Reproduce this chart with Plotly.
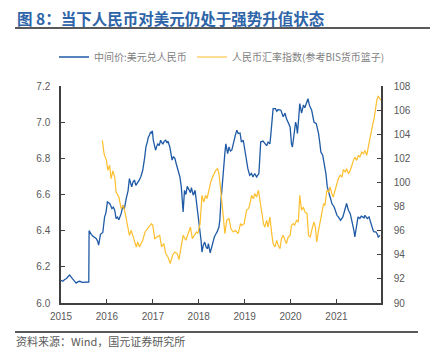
import plotly.graph_objects as go

# ---- data ----
cny_x = [2015.00, 2015.04, 2015.08, 2015.12, 2015.15, 2015.19, 2015.23, 2015.26, 2015.30, 2015.33,
         2015.37, 2015.41, 2015.46, 2015.51, 2015.56, 2015.605, 2015.612, 2015.64, 2015.66, 2015.69,
         2015.72, 2015.77, 2015.80, 2015.82, 2015.84, 2015.86, 2015.91, 2015.95, 2015.98, 2016.01,
         2016.06, 2016.11, 2016.14, 2016.17, 2016.20, 2016.23, 2016.26, 2016.31, 2016.35, 2016.38,
         2016.42, 2016.46, 2016.49, 2016.54, 2016.57, 2016.60, 2016.63, 2016.66, 2016.71, 2016.74,
         2016.78, 2016.82, 2016.85, 2016.88, 2016.90, 2016.93, 2016.95, 2016.97, 2016.99, 2017.01,
         2017.03, 2017.06, 2017.09, 2017.11, 2017.14, 2017.17, 2017.20, 2017.22, 2017.25, 2017.28,
         2017.31, 2017.33, 2017.37, 2017.40, 2017.42, 2017.45, 2017.48, 2017.51, 2017.53, 2017.56,
         2017.59, 2017.62, 2017.66, 2017.69, 2017.72, 2017.75, 2017.79, 2017.82, 2017.84, 2017.88,
         2017.92, 2017.96, 2018.00, 2018.03, 2018.05, 2018.07, 2018.10, 2018.13, 2018.16, 2018.19,
         2018.21, 2018.25, 2018.27, 2018.29, 2018.34, 2018.37, 2018.40, 2018.44, 2018.46, 2018.48,
         2018.50, 2018.52, 2018.54, 2018.57, 2018.59, 2018.63, 2018.66, 2018.69, 2018.72, 2018.75,
         2018.77, 2018.80, 2018.83, 2018.86, 2018.90, 2018.93, 2018.97, 2019.00, 2019.04, 2019.07,
         2019.11, 2019.15, 2019.18, 2019.22, 2019.26, 2019.29, 2019.31, 2019.33, 2019.35, 2019.40,
         2019.45, 2019.48, 2019.51, 2019.55, 2019.57, 2019.59, 2019.62, 2019.67, 2019.70, 2019.73,
         2019.79, 2019.84, 2019.88, 2019.91, 2019.94, 2019.99, 2020.02, 2020.04, 2020.06, 2020.08,
         2020.11, 2020.13, 2020.15, 2020.18, 2020.20, 2020.24, 2020.28, 2020.31, 2020.34, 2020.38,
         2020.41, 2020.46, 2020.48, 2020.51, 2020.56, 2020.61, 2020.64, 2020.66, 2020.70, 2020.73,
         2020.77, 2020.80, 2020.83, 2020.85, 2020.88, 2020.90, 2020.95, 2020.98, 2021.01, 2021.04,
         2021.07, 2021.09, 2021.14, 2021.17, 2021.19, 2021.22, 2021.26, 2021.30, 2021.33, 2021.35,
         2021.38, 2021.40, 2021.43, 2021.47, 2021.51, 2021.54, 2021.57, 2021.60, 2021.62, 2021.67,
         2021.71, 2021.74, 2021.77, 2021.80, 2021.82, 2021.86, 2021.89, 2021.91, 2021.95]
cny_y = [6.126, 6.120, 6.130, 6.135, 6.145, 6.155, 6.140, 6.130, 6.120, 6.110,
         6.118, 6.120, 6.114, 6.116, 6.115, 6.116, 6.400, 6.385, 6.380, 6.370,
         6.365, 6.356, 6.340, 6.320, 6.350, 6.380, 6.390, 6.476, 6.500, 6.559,
         6.550, 6.522, 6.530, 6.513, 6.467, 6.475, 6.460, 6.494, 6.540, 6.520,
         6.577, 6.620, 6.688, 6.642, 6.670, 6.680, 6.650, 6.660, 6.682, 6.700,
         6.734, 6.800, 6.863, 6.890, 6.915, 6.930, 6.946, 6.940, 6.952, 6.900,
         6.872, 6.845, 6.870, 6.880, 6.870, 6.900, 6.885, 6.880, 6.895, 6.900,
         6.885, 6.895, 6.863, 6.820, 6.790, 6.810, 6.800, 6.770, 6.749, 6.730,
         6.697, 6.642, 6.504, 6.623, 6.600, 6.645, 6.623, 6.610, 6.638, 6.596,
         6.623, 6.540, 6.457, 6.400, 6.347, 6.282, 6.320, 6.337, 6.310, 6.300,
         6.328, 6.277, 6.300, 6.320, 6.365, 6.380, 6.393, 6.420, 6.460, 6.550,
         6.623, 6.700, 6.770, 6.830, 6.880, 6.826, 6.863, 6.840, 6.845, 6.880,
         6.910, 6.930, 6.955, 6.937, 6.940, 6.890, 6.900, 6.845, 6.790, 6.743,
         6.706, 6.716, 6.697, 6.716, 6.697, 6.710, 6.716, 6.800, 6.890, 6.895,
         6.880, 6.870, 6.890, 6.880, 6.930, 6.992, 7.075, 7.075, 7.060, 7.070,
         7.066, 7.030, 7.050, 7.020, 7.000, 6.974, 6.880, 6.863, 6.900, 6.946,
         7.000, 6.980, 6.937, 7.030, 7.103, 7.050, 7.094, 7.080, 7.103, 7.130,
         7.094, 7.066, 7.040, 7.000, 6.992, 6.937, 6.880, 6.835, 6.817, 6.770,
         6.716, 6.642, 6.620, 6.596, 6.570, 6.550, 6.531, 6.500, 6.485, 6.476,
         6.460, 6.457, 6.476, 6.500, 6.522, 6.550, 6.513, 6.494, 6.460, 6.439,
         6.400, 6.365, 6.420, 6.476, 6.467, 6.480, 6.476, 6.470, 6.485, 6.467,
         6.476, 6.450, 6.420, 6.400, 6.393, 6.393, 6.380, 6.365, 6.374]

idx_x = [2015.90, 2015.92, 2015.94, 2015.99, 2016.02, 2016.06, 2016.09, 2016.13, 2016.17, 2016.20,
         2016.23, 2016.26, 2016.31, 2016.36, 2016.39, 2016.42, 2016.46, 2016.49, 2016.53, 2016.56,
         2016.59, 2016.64, 2016.67, 2016.71, 2016.74, 2016.78, 2016.83, 2016.88, 2016.92, 2016.97,
         2017.00, 2017.04, 2017.09, 2017.15, 2017.19, 2017.24, 2017.28, 2017.33, 2017.38, 2017.43,
         2017.48, 2017.53, 2017.57, 2017.62, 2017.66, 2017.72, 2017.77, 2017.82, 2017.86, 2017.91,
         2017.95, 2017.98, 2018.03, 2018.07, 2018.11, 2018.15, 2018.18, 2018.23, 2018.27, 2018.32,
         2018.37, 2018.41, 2018.44, 2018.48, 2018.50, 2018.52, 2018.54, 2018.57, 2018.61, 2018.66,
         2018.70, 2018.75, 2018.80, 2018.86, 2018.91, 2018.94, 2018.99, 2019.04, 2019.08, 2019.11,
         2019.15, 2019.19, 2019.22, 2019.26, 2019.30, 2019.33, 2019.37, 2019.41, 2019.44, 2019.48,
         2019.51, 2019.55, 2019.59, 2019.62, 2019.66, 2019.70, 2019.73, 2019.77, 2019.80, 2019.84,
         2019.88, 2019.91, 2019.95, 2019.99, 2020.02, 2020.06, 2020.09, 2020.13, 2020.17, 2020.20,
         2020.24, 2020.28, 2020.31, 2020.34, 2020.36, 2020.39, 2020.43, 2020.46, 2020.51, 2020.54,
         2020.57, 2020.61, 2020.65, 2020.68, 2020.72, 2020.75, 2020.79, 2020.83, 2020.86, 2020.90,
         2020.93, 2020.97, 2021.01, 2021.04, 2021.08, 2021.12, 2021.15, 2021.19, 2021.22, 2021.26,
         2021.30, 2021.33, 2021.37, 2021.40, 2021.44, 2021.48, 2021.51, 2021.55, 2021.59, 2021.62,
         2021.66, 2021.70, 2021.73, 2021.77, 2021.80, 2021.82, 2021.85, 2021.88, 2021.91, 2021.95,
         2021.96]
idx_y = [103.49, 102.80, 102.33, 101.83, 101.00, 101.42, 100.31, 100.95, 100.45, 99.20,
         99.00, 98.79, 97.83, 98.10, 97.60, 97.00, 96.17, 95.60, 96.03, 95.60,
         95.20, 94.64, 95.06, 94.64, 94.90, 95.20, 95.89, 96.17, 96.30, 96.58,
         96.44, 95.34, 95.48, 95.61, 94.65, 94.92, 94.10, 93.82, 93.27, 93.96,
         94.23, 94.10, 93.60, 94.92, 95.61, 95.20, 95.75, 96.30, 95.34, 95.61,
         95.89, 95.75, 96.58, 98.93, 98.38, 98.93, 98.65, 99.48, 100.17, 100.59,
         101.00, 101.14, 100.73, 99.35, 98.40, 97.50, 96.58, 95.75, 96.86, 97.00,
         96.17, 95.89, 96.03, 95.75, 96.58, 96.44, 96.58, 97.69, 97.83, 98.10,
         98.93, 98.65, 99.07, 98.79, 99.35, 98.52, 97.27, 96.58, 96.30, 96.86,
         96.30, 97.13, 95.75, 94.92, 94.65, 95.20, 94.78, 94.50, 95.34, 95.61,
         95.20, 94.92, 95.48, 95.61, 96.44, 96.58, 96.44, 96.86, 96.72, 98.93,
         97.69, 97.96, 97.55, 97.50, 97.41, 95.61, 95.48, 96.03, 96.72, 96.30,
         95.06, 96.03, 96.86, 97.55, 98.24, 98.10, 99.35, 99.21, 99.62, 99.07,
         98.79, 99.35, 99.90, 100.31, 100.59, 100.45, 101.06, 100.87, 101.14, 100.73,
         101.00, 101.42, 101.83, 102.10, 101.83, 102.25, 102.10, 102.52, 102.38, 102.66,
         102.25, 103.08, 103.77, 104.46, 105.01, 105.29, 106.25, 106.86, 107.14, 106.95,
         106.80]

year_ticks = [2015, 2016, 2017, 2018, 2019, 2020, 2021]
year_labels = ["2015", "2016", "2017", "2018", "2019", "2020", "2021"]
left_ticks = [6.0, 6.2, 6.4, 6.6, 6.8, 7.0, 7.2]
right_ticks = [90, 92, 94, 96, 98, 100, 102, 104, 106, 108]

name_cny = "中间价:美元兑人民币"
name_idx = "人民币汇率指数(参考BIS货币篮子)"
title_text = "图 8：当下人民币对美元仍处于强势升值状态"
source_text = "资料来源：Wind，国元证券研究所"

# ---- figure ----
# the html page body has an 8px margin, so page coordinates are offset by 8
OFF = 8
W, H = 438 - OFF, 359 - OFF
L, R, T, B = 61 - OFF, 381 - OFF, 86 - OFF, 303 - OFF
pw, ph = R - L, B - T

def px(x):
    return (x - OFF - L) / pw

def py(y):
    return (B - (y - OFF)) / ph

fig = go.Figure()
fig.add_trace(go.Scatter(x=idx_x, y=idx_y, name=name_idx, yaxis="y2", mode="lines",
                         line=dict(color="#FDBF2D", width=1.2), legend="legend2"))
fig.add_trace(go.Scatter(x=cny_x, y=cny_y, name=name_cny, mode="lines",
                         line=dict(color="#1F5AA6", width=1.3), legend="legend"))

axis_color = "#404040"
tick_font = dict(family="Liberation Sans, Arial, sans-serif", size=10, color="#595959")
leg_font = dict(family="Noto Sans CJK SC", size=10, color="#7F7F7F")

fig.update_layout(
    width=W, height=H,
    margin=dict(l=L, r=W - R, t=T, b=H - B, pad=0, autoexpand=False),
    paper_bgcolor="white", plot_bgcolor="white",
    showlegend=True,
    legend=dict(orientation="h", x=px(54), y=py(57), xanchor="left", yanchor="middle",
                font=leg_font, itemwidth=30, bgcolor="rgba(0,0,0,0)"),
    legend2=dict(orientation="h", x=px(192), y=py(57), xanchor="left", yanchor="middle",
                 font=leg_font, itemwidth=30, bgcolor="rgba(0,0,0,0)"),
    xaxis=dict(range=[2015, 2021.97], tickvals=year_ticks, ticktext=year_labels,
               showgrid=False, zeroline=False, showline=True, linecolor=axis_color,
               linewidth=1.5, ticks="inside", ticklen=4, tickcolor=axis_color,
               tickfont=tick_font, automargin=False, ticklabelstandoff=3),
    yaxis=dict(range=[6.0, 7.2], tickvals=left_ticks, tickformat=".1f",
               showgrid=False, zeroline=False, showline=True, linecolor=axis_color,
               linewidth=1.5, ticks="inside", ticklen=4, tickcolor=axis_color,
               tickfont=tick_font, ticklabelstandoff=7, automargin=False),
    yaxis2=dict(range=[90, 108], tickvals=right_ticks, overlaying="y", side="right",
                showgrid=False, zeroline=False, showline=True, linecolor=axis_color,
                linewidth=1.5, ticks="inside", ticklen=4, tickcolor=axis_color,
                tickfont=tick_font, ticklabelstandoff=9, automargin=False),
    shapes=[
        dict(type="line", xref="paper", yref="paper", x0=px(15), x1=px(438),
             y0=py(28), y1=py(28), line=dict(color="#222222", width=1.5)),
        dict(type="line", xref="paper", yref="paper", x0=px(15), x1=px(418),
             y0=py(332), y1=py(332), line=dict(color="#222222", width=1.5)),
    ],
    annotations=[
        dict(text="<b>" + title_text + "</b>", xref="paper", yref="paper",
             x=px(15), y=py(18), xanchor="left", yanchor="middle", showarrow=False,
             font=dict(family="Noto Sans CJK SC", size=15.5, color="#2E64A8")),
        dict(text=source_text, xref="paper", yref="paper",
             x=px(14), y=py(341), xanchor="left", yanchor="middle", showarrow=False,
             font=dict(family="Noto Sans CJK SC", size=11, color="#595959")),
    ],
)

fig.write_html("out.html")
